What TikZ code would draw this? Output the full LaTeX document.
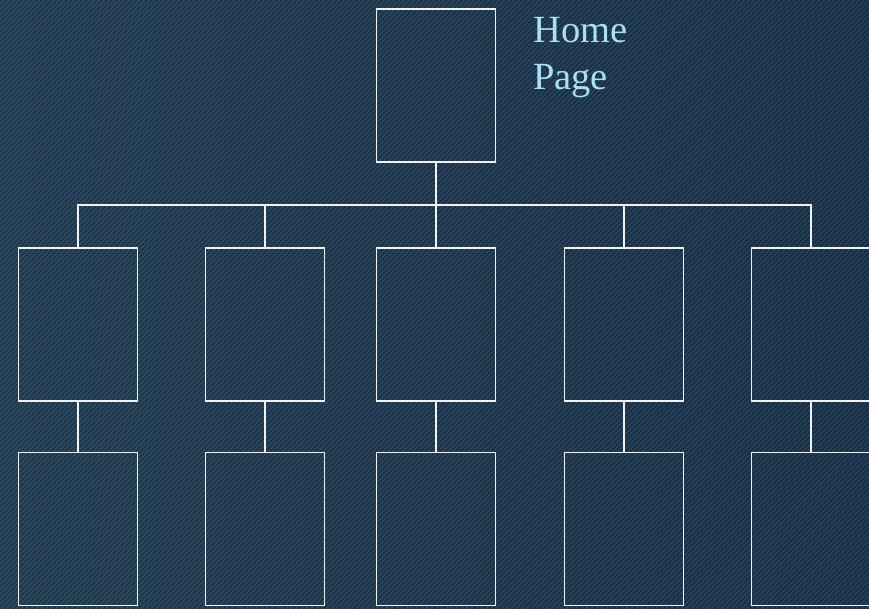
\documentclass[tikz,border=0pt]{standalone}
\usepackage{fontspec}
\setmainfont{Liberation Serif}
\definecolor{bgleft}{RGB}{48,80,106}
\definecolor{bgright}{RGB}{38,66,96}
\definecolor{labelc}{RGB}{170,225,242}
\definecolor{linec}{RGB}{240,242,245}
\begin{document}
\begin{tikzpicture}[x=1pt,y=-1pt,
  page/.style={draw=linec,line width=1.6pt,rectangle,minimum width=119pt,minimum height=153pt,inner sep=0pt},
  link/.style={draw=linec,line width=1.6pt},
  stripe/.style={draw=black,opacity=0.32,line width=1.8pt}]
\useasboundingbox (0,0) rectangle (869,608);
\shade[left color=bgleft,right color=bgright] (0,0) rectangle (869,608);
\begin{scope}
\clip (0,0) rectangle (869,608);
\foreach \s in {-610,-605,...,875}{\draw[stripe] (\s,612) -- (\s+616,-4);}
\end{scope}
\node[page] (home) at (436,85.5) {};
\node[inner sep=0pt,anchor=north west,align=left,text=labelc,font=\fontsize{38.5}{47}\selectfont] (lbl) at (533,17.5) {Home\\Page};
\foreach \i/\x in {1/78,2/265,3/436,4/624,5/811}{
  \node[page] (a\i) at (\x,324.5) {};
  \node[page] (b\i) at (\x,529) {};
  \draw[link] (a\i.south) -- (b\i.north);
}
\coordinate (bar) at (436,205);
\draw[link] (a1.north) -- (a1.north |- bar) -- (a5.north |- bar) -- (a5.north);
\foreach \i in {2,3,4}{\draw[link] (a\i.north) -- (a\i.north |- bar);}
\draw[link] (home.south) -- (home.south |- bar);
\end{tikzpicture}
\end{document}
